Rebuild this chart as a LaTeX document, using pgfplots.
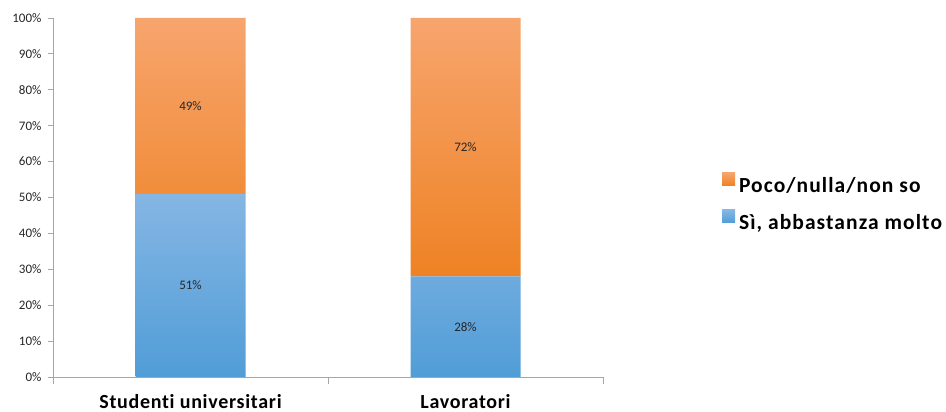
\documentclass[border=0pt]{standalone}
\usepackage{fontspec}
\setmainfont{Carlito}[RawFeature=-liga]
\newfontfamily\xlabfont{Carlito Bold}[LetterSpace=3.5, RawFeature=-liga]
\newfontfamily\legfont{Carlito Bold}[LetterSpace=5, RawFeature=-liga]
\usepackage{pgfplots}
\pgfplotsset{compat=1.18}

\definecolor{axgray}{HTML}{A6A6A6}
\definecolor{bluetop}{HTML}{85B6E4}
\definecolor{bluebot}{HTML}{519DD7}
\definecolor{orangetop}{HTML}{F7A56E}
\definecolor{orangemid}{HTML}{F38A31}
\definecolor{orangebot}{HTML}{EE8224}

\begin{document}
\begin{tikzpicture}
\path[use as bounding box] (0,0) rectangle (946pt,412pt);
\begin{axis}[
  at={(53pt,35pt)}, anchor=south west,
  scale only axis, width=550pt, height=359pt,
  ybar stacked, bar width=110pt,
  xmin=-0.5, xmax=1.5, ymin=0, ymax=100,
  axis lines*=left,
  axis line style={-, draw=axgray, line width=0.9pt},
  xtick={0,1},
  xticklabels={Studenti universitari, Lavoratori},
  minor xtick={-0.5,0.5,1.5},
  ytick={0,10,...,100},
  yticklabel={\pgfmathprintnumber{\tick}\%},
  tick align=outside,
  major tick length=5pt, minor tick length=7pt,
  every tick/.style={draw=axgray, line width=0.9pt},
  every major x tick/.style={draw=none},
  every minor x tick/.style={draw=axgray, line width=0.9pt},
  /pgf/number format/assume math mode=true,
  yticklabel style={font=\fontsize{13}{15}\selectfont, text=black!85, xshift=-3pt},
  xticklabel style={font=\xlabfont\fontsize{20}{24}\selectfont, text=black, yshift=-9pt},
  visualization depends on={rawy \as \rawy},
  nodes near coords={\pgfmathprintnumber{\rawy}\%},
  every node near coord/.append style={font=\fontsize{13}{15}\selectfont, text=black!85,
    anchor=center},
  legend cell align=left,
  reverse legend,
  legend image code/.code={\fill[#1] (0pt,0pt) rectangle (13pt,13pt);},
  legend style={at={(1.216,0.485)}, anchor=west, draw=none, fill=none,
    font=\legfont\fontsize{21.5}{25}\selectfont, row sep=14pt, inner sep=0pt,
    nodes={inner xsep=4pt}},
]
\addplot[draw=none, top color=bluetop, bottom color=bluebot] coordinates {(0,51) (1,28)};
\addplot[draw=none, top color=orangetop, middle color=orangemid, bottom color=orangebot] coordinates {(0,49) (1,72)};
\legend{{Sì, abbastanza molto}, {Poco/nulla/non so}}
\end{axis}
\end{tikzpicture}
\end{document}
